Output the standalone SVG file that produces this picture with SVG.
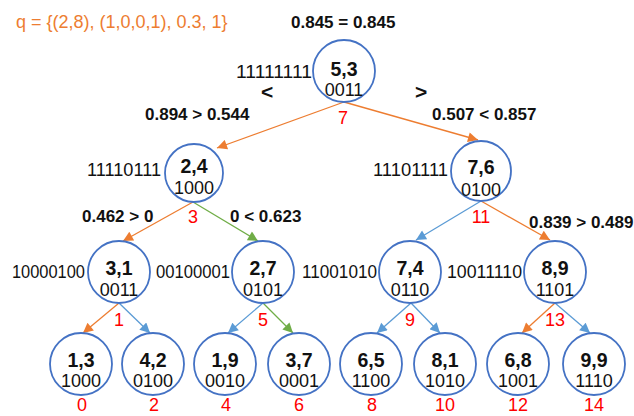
<svg xmlns="http://www.w3.org/2000/svg" width="634" height="416" viewBox="0 0 634 416">
  <defs>
    <style>
      text { font-family: "Liberation Sans", Arial, sans-serif; fill: #111; }
      .node circle { fill: #fff; stroke: #4472C4; stroke-width: 1.8; }
      .key { font-weight: bold; font-size: 19.5px; text-anchor: middle; }
      .bits { font-size: 18px; text-anchor: middle; }
      .code { font-size: 18px; text-anchor: end; }
      .cmp { font-weight: bold; font-size: 17px; }
      .idx { font-size: 18px; fill: #FF0000; text-anchor: middle; }
      .edge { fill: none; stroke-width: 1.3; }
      .orange { stroke: #ED7D31; }
      .blue { stroke: #5B9BD5; }
      .green { stroke: #70AD47; }
    </style>
    <marker id="ah-orange" viewBox="0 0 10 10" refX="10" refY="5" markerWidth="11" markerHeight="10" markerUnits="userSpaceOnUse" orient="auto">
      <path d="M0,0 L10,5 L0,10 Z" fill="#ED7D31"/>
    </marker>
    <marker id="ah-blue" viewBox="0 0 10 10" refX="10" refY="5" markerWidth="11" markerHeight="10" markerUnits="userSpaceOnUse" orient="auto">
      <path d="M0,0 L10,5 L0,10 Z" fill="#5B9BD5"/>
    </marker>
    <marker id="ah-green" viewBox="0 0 10 10" refX="10" refY="5" markerWidth="11" markerHeight="10" markerUnits="userSpaceOnUse" orient="auto">
      <path d="M0,0 L10,5 L0,10 Z" fill="#70AD47"/>
    </marker>
  </defs>

  <rect width="634" height="416" fill="#fff"/>

  <!-- query and root comparison -->
  <text x="16" y="28" font-size="18" style="fill:#ED7D31">q = {(2,8), (1,0,0,1), 0.3, 1}</text>
  <text class="cmp" x="291" y="28">0.845 = 0.845</text>
  <text x="261" y="99" font-size="21" font-weight="bold">&lt;</text>
  <text x="415" y="99" font-size="21" font-weight="bold">&gt;</text>

  <!-- connectors -->
  <g id="edges">
    <line class="edge orange" x1="344" y1="102" x2="217" y2="148" marker-end="url(#ah-orange)"/>
    <line class="edge orange" x1="344" y1="102" x2="478" y2="140" marker-end="url(#ah-orange)"/>
    <line class="edge orange" x1="193" y1="202" x2="123" y2="241" marker-end="url(#ah-orange)"/>
    <line class="edge green" x1="193" y1="202" x2="258" y2="241" marker-end="url(#ah-green)"/>
    <line class="edge blue" x1="481" y1="201" x2="416" y2="240" marker-end="url(#ah-blue)"/>
    <line class="edge orange" x1="481" y1="201" x2="550" y2="240" marker-end="url(#ah-orange)"/>
    <line class="edge orange" x1="119" y1="303" x2="83" y2="333" marker-end="url(#ah-orange)"/>
    <line class="edge blue" x1="119" y1="303" x2="150" y2="333" marker-end="url(#ah-blue)"/>
    <line class="edge blue" x1="263" y1="303" x2="228" y2="333" marker-end="url(#ah-blue)"/>
    <line class="edge green" x1="263" y1="303" x2="293" y2="333" marker-end="url(#ah-green)"/>
    <line class="edge blue" x1="411" y1="303" x2="377" y2="333" marker-end="url(#ah-blue)"/>
    <line class="edge blue" x1="411" y1="303" x2="440" y2="333" marker-end="url(#ah-blue)"/>
    <line class="edge orange" x1="555" y1="303" x2="522" y2="333" marker-end="url(#ah-orange)"/>
    <line class="edge blue" x1="555" y1="303" x2="590" y2="333" marker-end="url(#ah-blue)"/>
  </g>

  <!-- split comparisons -->
  <text class="cmp" x="145" y="120">0.894 &gt; 0.544</text>
  <text class="cmp" x="432" y="120">0.507 &lt; 0.857</text>
  <text class="cmp" x="82" y="222">0.462 &gt; 0</text>
  <text class="cmp" x="230" y="222">0 &lt; 0.623</text>
  <text class="cmp" x="529" y="228">0.839 &gt; 0.489</text>

  <!-- split indices -->
  <text class="idx" x="343" y="124">7</text>
  <text class="idx" x="193" y="223">3</text>
  <text class="idx" x="481" y="223">11</text>
  <text class="idx" x="119" y="326">1</text>
  <text class="idx" x="263" y="326">5</text>
  <text class="idx" x="410" y="326">9</text>
  <text class="idx" x="555" y="326">13</text>

  <!-- internal nodes -->
  <g id="n-5-3" class="node">
    <circle cx="344" cy="71" r="31"/>
    <text class="key" x="344" y="76">5,3</text>
    <text class="bits" x="344" y="96">0011</text>
    <text class="code" x="312" y="78" textLength="76" lengthAdjust="spacingAndGlyphs">11111111</text>
  </g>
  <g id="n-2-4" class="node">
    <circle cx="194" cy="173" r="29"/>
    <text class="key" x="194" y="173">2,4</text>
    <text class="bits" x="194" y="194">1000</text>
    <text class="code" x="161" y="176" textLength="74" lengthAdjust="spacingAndGlyphs">11110111</text>
  </g>
  <g id="n-7-6" class="node">
    <circle cx="481" cy="171" r="30"/>
    <text class="key" x="481" y="174">7,6</text>
    <text class="bits" x="481" y="196">0100</text>
    <text class="code" x="448" y="176" textLength="75" lengthAdjust="spacingAndGlyphs">11101111</text>
  </g>
  <g id="n-3-1" class="node">
    <circle cx="119" cy="272" r="31"/>
    <text class="key" x="119" y="275">3,1</text>
    <text class="bits" x="119" y="296">0011</text>
    <text class="code" x="85" y="278" textLength="73" lengthAdjust="spacingAndGlyphs">10000100</text>
  </g>
  <g id="n-2-7" class="node">
    <circle cx="263" cy="272" r="31"/>
    <text class="key" x="263" y="275">2,7</text>
    <text class="bits" x="263" y="296">0101</text>
    <text class="code" x="230" y="278" textLength="74" lengthAdjust="spacingAndGlyphs">00100001</text>
  </g>
  <g id="n-7-4" class="node">
    <circle cx="410" cy="272" r="31"/>
    <text class="key" x="410" y="275">7,4</text>
    <text class="bits" x="410" y="296">0110</text>
    <text class="code" x="377" y="278" textLength="75" lengthAdjust="spacingAndGlyphs">11001010</text>
  </g>
  <g id="n-8-9" class="node">
    <circle cx="555" cy="272" r="31"/>
    <text class="key" x="555" y="275">8,9</text>
    <text class="bits" x="555" y="296">1101</text>
    <text class="code" x="522" y="278" textLength="75" lengthAdjust="spacingAndGlyphs">10011110</text>
  </g>

  <!-- leaves -->
  <g id="n-1-3" class="node">
    <circle cx="81" cy="364" r="31"/>
    <text class="key" x="81" y="367">1,3</text>
    <text class="bits" x="81" y="387">1000</text>
    <text class="idx" x="82" y="411">0</text>
  </g>
  <g id="n-4-2" class="node">
    <circle cx="153" cy="364" r="31"/>
    <text class="key" x="153" y="367">4,2</text>
    <text class="bits" x="153" y="387">0100</text>
    <text class="idx" x="154" y="411">2</text>
  </g>
  <g id="n-1-9" class="node">
    <circle cx="225" cy="364" r="31"/>
    <text class="key" x="225" y="367">1,9</text>
    <text class="bits" x="225" y="387">0010</text>
    <text class="idx" x="226" y="411">4</text>
  </g>
  <g id="n-3-7" class="node">
    <circle cx="299" cy="364" r="31"/>
    <text class="key" x="299" y="367">3,7</text>
    <text class="bits" x="299" y="387">0001</text>
    <text class="idx" x="299" y="411">6</text>
  </g>
  <g id="n-6-5" class="node">
    <circle cx="371" cy="364" r="31"/>
    <text class="key" x="371" y="367">6,5</text>
    <text class="bits" x="371" y="387">1100</text>
    <text class="idx" x="372" y="411">8</text>
  </g>
  <g id="n-8-1" class="node">
    <circle cx="445" cy="364" r="31"/>
    <text class="key" x="445" y="367">8,1</text>
    <text class="bits" x="445" y="387">1010</text>
    <text class="idx" x="445" y="411">10</text>
  </g>
  <g id="n-6-8" class="node">
    <circle cx="518" cy="364" r="31"/>
    <text class="key" x="518" y="367">6,8</text>
    <text class="bits" x="518" y="387">1001</text>
    <text class="idx" x="518" y="411">12</text>
  </g>
  <g id="n-9-9" class="node">
    <circle cx="594" cy="364" r="31"/>
    <text class="key" x="594" y="367">9,9</text>
    <text class="bits" x="594" y="387">1110</text>
    <text class="idx" x="594" y="411">14</text>
  </g>
</svg>
